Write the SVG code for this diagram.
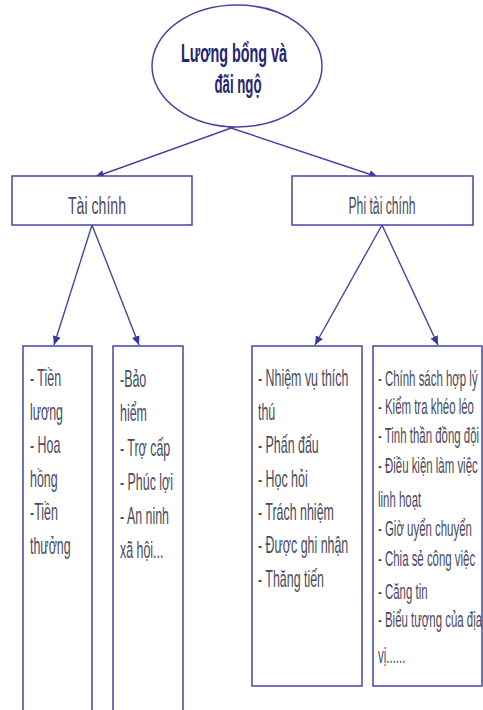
<svg xmlns="http://www.w3.org/2000/svg" width="483" height="710" viewBox="0 0 483 710">
  <style>
    .shape { fill: #ffffff; stroke: #4646a0; stroke-width: 1.5; }
    .conn { fill: none; stroke: #4646a0; stroke-width: 1.4; }
    .title { font-family: "Liberation Sans", Arial, sans-serif; font-weight: bold; font-size: 26px; fill: #262673; }
    .label { font-family: "Liberation Sans", Arial, sans-serif; font-size: 23px; fill: #4a4a5e; }
    .item { font-family: "Liberation Sans", Arial, sans-serif; font-size: 23px; fill: #4a4a5e; }
    .item2 { font-family: "Liberation Sans", Arial, sans-serif; font-size: 22px; fill: #4a4a5e; }
  </style>
  <defs>
    <marker id="arrow" markerUnits="userSpaceOnUse" markerWidth="10" markerHeight="8" refX="9" refY="4" orient="auto">
      <path d="M0,0 L9,4 L0,8 Z" fill="#3a3a9a"/>
    </marker>
  </defs>
  <rect width="483" height="710" fill="#ffffff"/>

  <g id="connectors">
    <line class="conn" x1="234" y1="127" x2="95" y2="177" marker-end="url(#arrow)"/>
    <line class="conn" x1="228" y1="127" x2="378" y2="177" marker-end="url(#arrow)"/>
    <line class="conn" x1="92" y1="225" x2="54" y2="345" marker-end="url(#arrow)"/>
    <line class="conn" x1="92" y1="225" x2="139" y2="345" marker-end="url(#arrow)"/>
    <line class="conn" x1="382" y1="225" x2="315" y2="345" marker-end="url(#arrow)"/>
    <line class="conn" x1="382" y1="225" x2="438" y2="345" marker-end="url(#arrow)"/>
  </g>

  <g id="root">
    <ellipse class="shape" cx="237" cy="66" rx="85" ry="61" fill="none"/>
    <text class="title" x="234" y="62" text-anchor="middle" textLength="106" lengthAdjust="spacingAndGlyphs">Lương bổng và</text>
    <text class="title" x="238" y="93" text-anchor="middle" textLength="47" lengthAdjust="spacingAndGlyphs">đãi ngộ</text>
  </g>

  <g id="tai-chinh">
    <rect class="shape" x="12" y="176" width="180" height="49"/>
    <text class="label" x="97" y="214" text-anchor="middle" textLength="58" lengthAdjust="spacingAndGlyphs">Tài chính</text>
  </g>

  <g id="phi-tai-chinh">
    <rect class="shape" x="292" y="176" width="181" height="49"/>
    <text class="label" x="382" y="214" text-anchor="middle" textLength="67" lengthAdjust="spacingAndGlyphs">Phi tài chính</text>
  </g>

  <g id="box-luong">
    <rect class="shape" x="23" y="346" width="69" height="370"/>
    <g transform="translate(30 0) scale(0.54 1)">
      <text class="item" x="0" y="386">- Tiền</text>
      <text class="item" x="0" y="420">lương</text>
      <text class="item" x="0" y="453">- Hoa</text>
      <text class="item" x="0" y="487">hồng</text>
      <text class="item" x="0" y="520">-Tiền</text>
      <text class="item" x="0" y="554">thưởng</text>
    </g>
  </g>

  <g id="box-bao-hiem">
    <rect class="shape" x="113" y="346" width="70" height="370"/>
    <g transform="translate(120 0) scale(0.54 1)">
      <text class="item" x="0" y="387">-Bảo</text>
      <text class="item" x="0" y="421">hiểm</text>
      <text class="item" x="0" y="456">- Trợ cấp</text>
      <text class="item" x="0" y="490">- Phúc lợi</text>
      <text class="item" x="0" y="524">- An ninh</text>
      <text class="item" x="0" y="558">xã hội...</text>
    </g>
  </g>

  <g id="box-nhiem-vu">
    <rect class="shape" x="252" y="346" width="110" height="340"/>
    <g transform="translate(258 0) scale(0.54 1)">
      <text class="item" x="0" y="386">- Nhiệm vụ thích</text>
      <text class="item" x="0" y="420">thú</text>
      <text class="item" x="0" y="453">- Phấn đấu</text>
      <text class="item" x="0" y="487">- Học hỏi</text>
      <text class="item" x="0" y="520">- Trách nhiệm</text>
      <text class="item" x="0" y="553">- Được ghi nhận</text>
      <text class="item" x="0" y="587">- Thăng tiến</text>
    </g>
  </g>

  <g id="box-chinh-sach">
    <rect class="shape" x="373" y="346" width="109" height="340"/>
    <g transform="translate(378 0) scale(0.52 1)">
      <text class="item2" x="0" y="386">- Chính sách hợp lý</text>
      <text class="item2" x="0" y="414">- Kiểm tra khéo léo</text>
      <text class="item2" x="0" y="443">- Tinh thần đồng đội</text>
      <text class="item2" x="0" y="473">- Điều kiện làm việc</text>
      <text class="item2" x="0" y="507">linh hoạt</text>
      <text class="item2" x="0" y="536">- Giờ uyển chuyển</text>
      <text class="item2" x="0" y="566">- Chia sẻ công việc</text>
      <text class="item2" x="0" y="599">- Căng tin</text>
      <text class="item2" x="0" y="627">- Biểu tượng của địa</text>
      <text class="item2" x="0" y="663">vị......</text>
    </g>
  </g>
</svg>
